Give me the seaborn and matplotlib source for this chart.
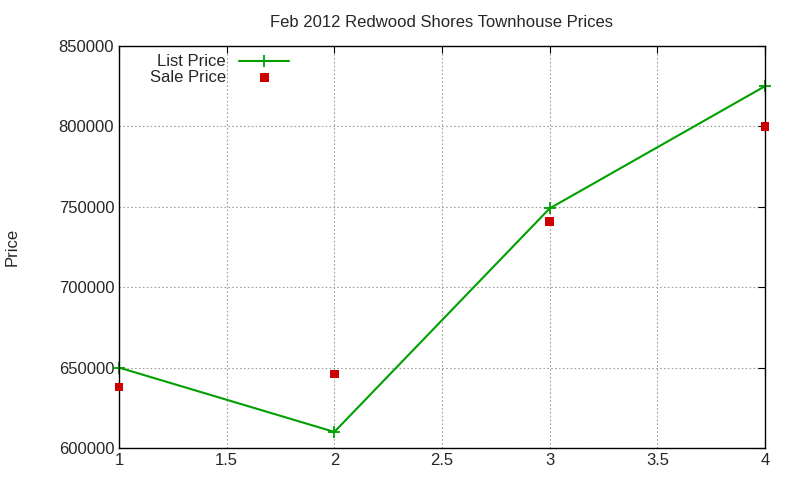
import matplotlib
matplotlib.use("Agg")
import matplotlib.pyplot as plt
import seaborn as sns
import pandas as pd

x = [1, 2, 3, 4]
list_price = [650000, 610000, 749000, 825000]
sale_price = [638000, 646000, 741000, 800000]

sns.set_style("white")
plt.rcParams['font.family'] = ['Liberation Sans', 'DejaVu Sans']
fig = plt.figure(figsize=(8, 4.8), dpi=100)
ax = fig.add_axes([119/800, 1-448/480, (765-119)/800, (448-46)/480])

df = pd.DataFrame({"x": x, "list": list_price, "sale": sale_price})
sns.lineplot(data=df, x="x", y="list", ax=ax, color="#00a000", marker="+",
             markersize=8, markeredgewidth=1.3, markeredgecolor="#00a000",
             linewidth=1.5, label="List Price", clip_on=False)
sns.scatterplot(data=df, x="x", y="sale", ax=ax, color="#cc0000", marker="s",
                s=40, edgecolor="none", label="Sale Price", clip_on=False, zorder=5)

ax.set_xlim(1, 4)
ax.set_ylim(600000, 850000)
ax.set_xticks([1, 1.5, 2, 2.5, 3, 3.5, 4])
ax.set_xticklabels(["1", "1.5", "2", "2.5", "3", "3.5", "4"])
ax.set_yticks(range(600000, 850001, 50000))
ax.grid(True, color="#a0a0a0", linestyle=(0, (1.5, 2)), linewidth=0.8)
for s in ax.spines.values():
    s.set_color("black"); s.set_linewidth(1)
ax.tick_params(direction="in", length=5, labelsize=12, top=True, right=True, color="black")
ax.set_xlabel("")
ax.set_ylabel("Price", fontsize=12, labelpad=28)
ax.set_title("Feb 2012 Redwood Shores Townhouse Prices", fontsize=12, pad=14)
leg = ax.legend(loc="upper left", bbox_to_anchor=(0.035, 1.0), frameon=False,
                markerfirst=False, fontsize=12, handlelength=3,
                labelspacing=0.05, borderaxespad=0.1)
for t in leg.get_texts():
    t.set_ha("right")
fig.savefig("out.png", dpi=100)
